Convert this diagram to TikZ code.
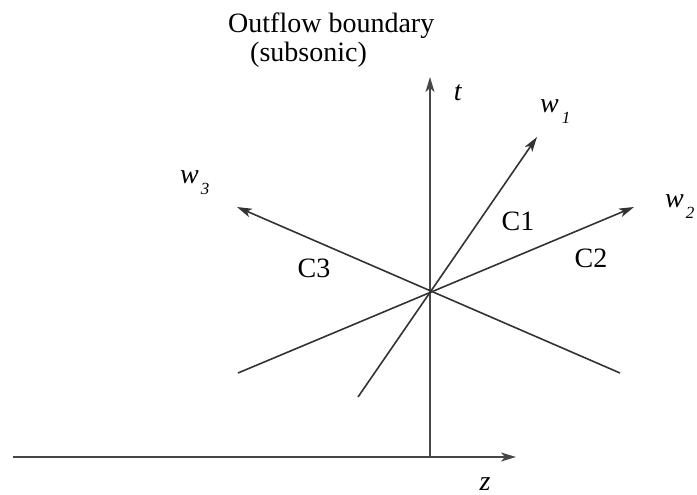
\documentclass[tikz,border=0pt]{standalone}
\usepackage{fontspec}
\setmainfont{Liberation Serif}
\usetikzlibrary{arrows.meta}
\newcommand\wlab[2]{\textit{w}\hspace{#2}\raisebox{-11pt}{\fontsize{17}{20}\selectfont\textit{#1}}}
\begin{document}
\begin{tikzpicture}[x=1pt,y=-1pt,
  axisline/.style={line width=1.9pt,draw=black!72},
  charline/.style={line width=1.6pt,draw=black!80},
  tipped/.style={-{Stealth[length=15pt,width=9pt,inset=4pt]}},
  lbl/.style={inner sep=0pt,font=\fontsize{28}{32}\selectfont}]
\useasboundingbox (0,0) rectangle (697,495);
% coordinates
\coordinate (O) at (430,290);
\coordinate (tbot) at (430,457);
\coordinate (ttop) at (430,77);
\coordinate (zl) at (13,457);
\coordinate (zr) at (516,457);
\coordinate (w1a) at (358,397);
\coordinate (w1b) at (537,137);
\coordinate (w2a) at (238,373);
\coordinate (w2b) at (634,207);
\coordinate (w3a) at (620,373);
\coordinate (w3b) at (237,207);
% axes
\draw[axisline,tipped] (zl) -- (zr);
\draw[axisline,tipped] (tbot) -- (ttop);
% characteristic lines
\draw[charline,tipped] (w1a) -- (w1b);
\draw[charline,tipped] (w2a) -- (w2b);
\draw[charline,tipped] (w3a) -- (w3b);
% labels
\node[lbl,anchor=base west] (ob1) at (228,33) {Outflow boundary};
\node[lbl,anchor=base west] (ob2) at (250,62) {(subsonic)};
\node[lbl,anchor=base] (tl) at (458,100) {\textit{t}};
\node[lbl,anchor=base] (zlab) at (485,490) {\textit{z}};
\node[lbl,anchor=base west] (w1l) at (540,113) {\wlab{1}{3pt}};
\node[lbl,anchor=base west] (w2l) at (665,207) {\wlab{2}{2pt}};
\node[lbl,anchor=base west] (w3l) at (180,183) {\wlab{3}{2pt}};
\node[lbl,anchor=base] (c1) at (518,230) {C1};
\node[lbl,anchor=base] (c2) at (591,267) {C2};
\node[lbl,anchor=base] (c3) at (314,277) {C3};
\end{tikzpicture}
\end{document}
